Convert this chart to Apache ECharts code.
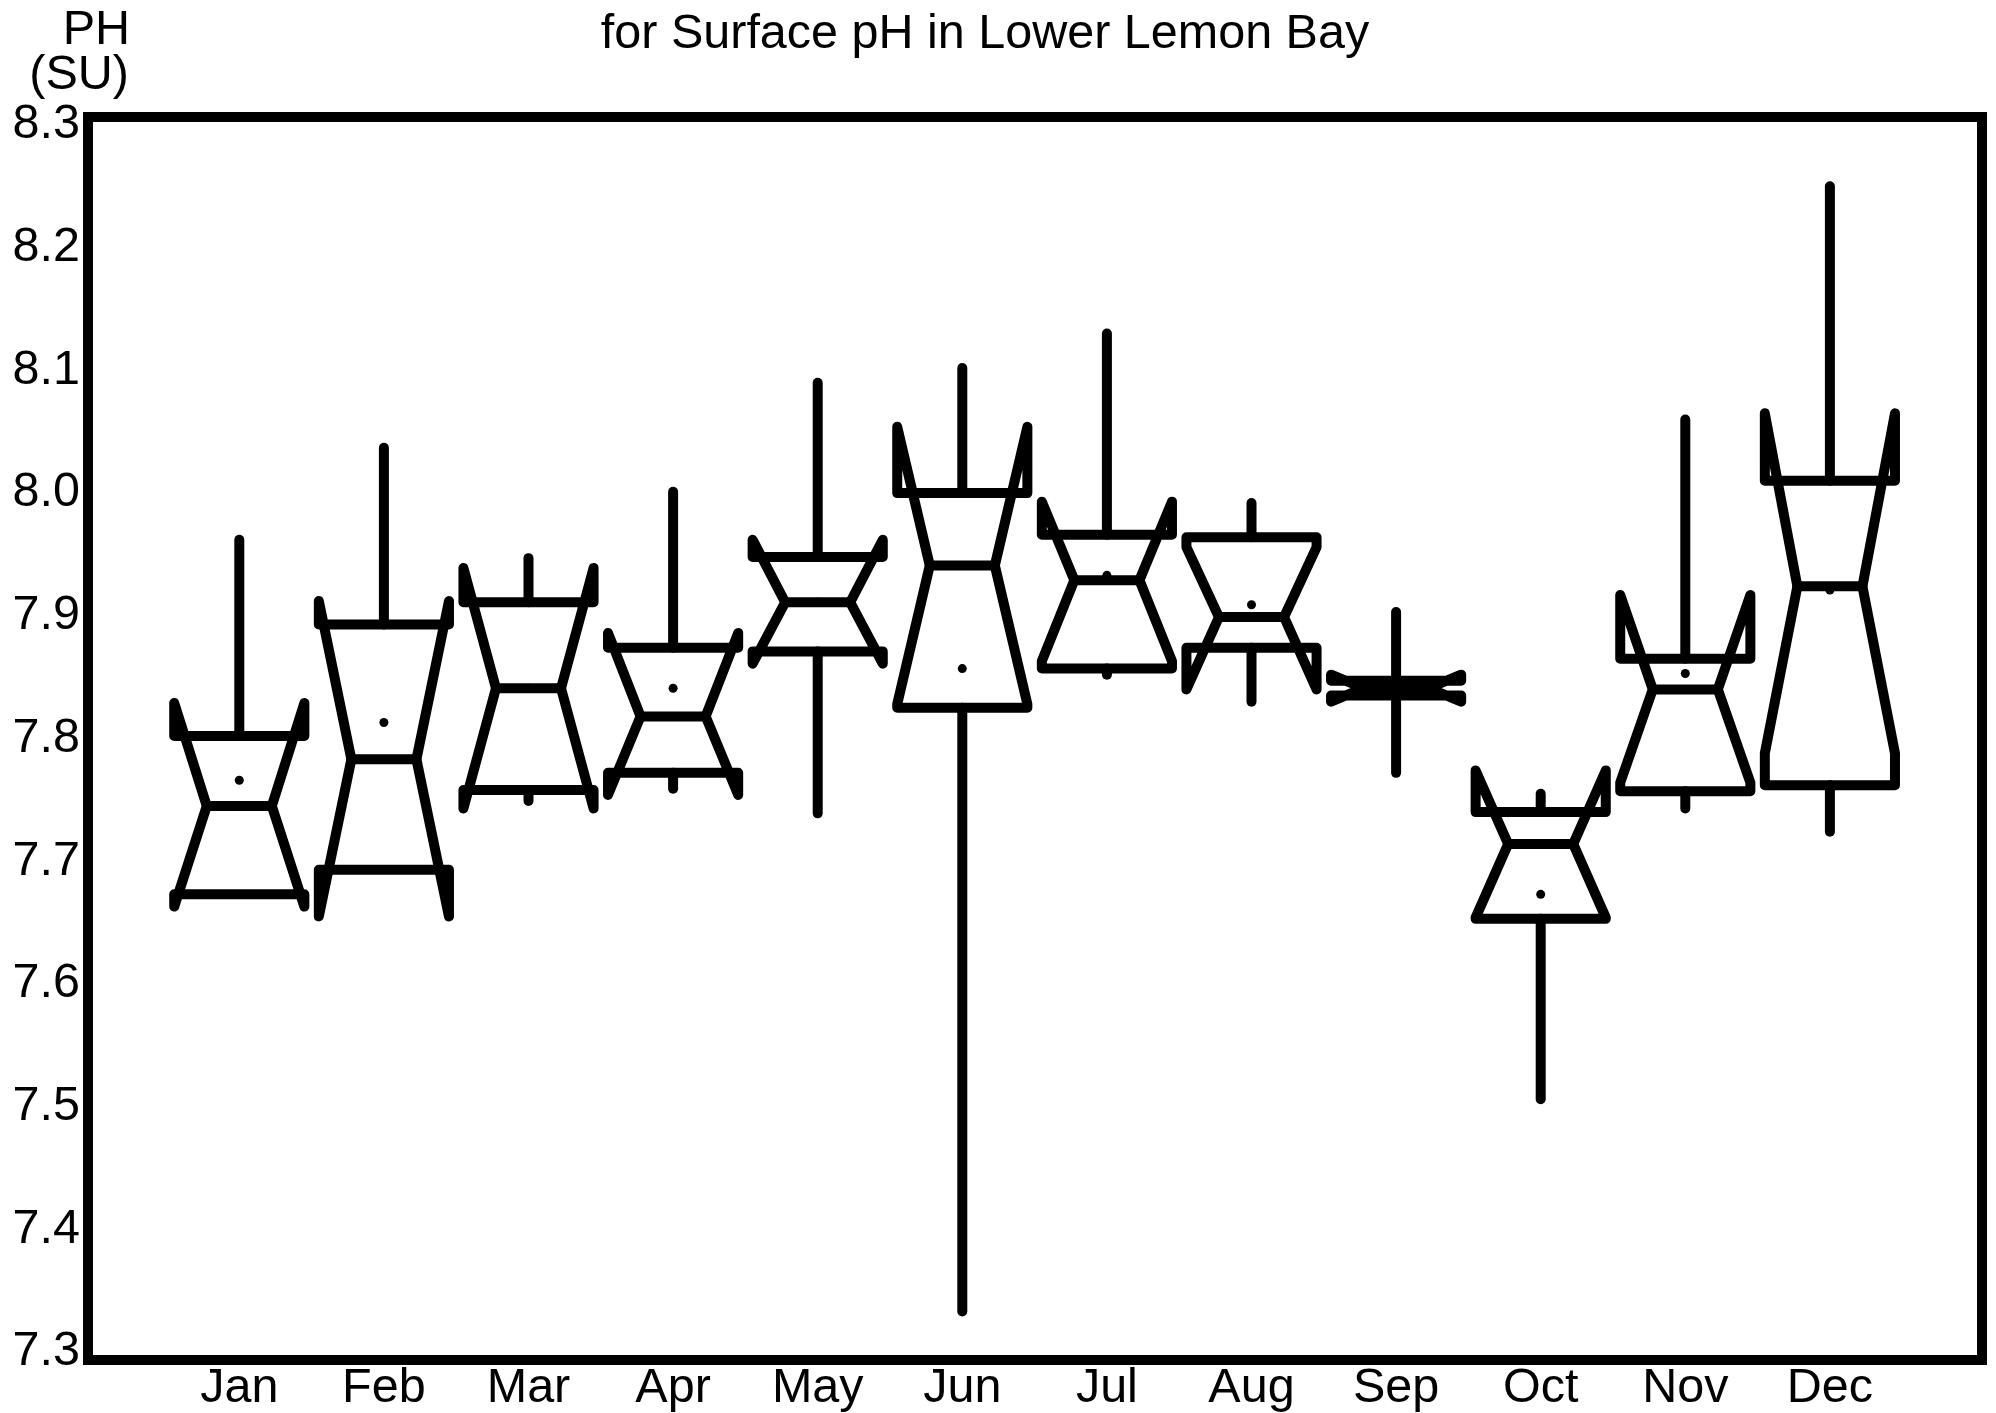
<!DOCTYPE html>
<html><head><meta charset="utf-8">
<script src="https://cdn.jsdelivr.net/npm/echarts@6/dist/echarts.min.js"></script>
<style>html,body{margin:0;padding:0;background:#fff}#c{width:1996px;height:1413px}</style>
</head><body><div id="c"></div>
<script>
const months = ['Jan','Feb','Mar','Apr','May','Jun','Jul','Aug','Sep','Oct','Nov','Dec'];
const whiskerLow  = [7.673,7.693,7.749,7.759,7.739,7.333,7.852,7.830,7.772,7.506,7.743,7.724];
const quart1      = [7.673,7.693,7.758,7.772,7.871,7.825,7.857,7.874,7.835,7.653,7.757,7.762];
const notchLow    = [7.663,7.655,7.743,7.754,7.861,7.828,7.863,7.840,7.830,7.654,7.764,7.788];
const median      = [7.745,7.783,7.841,7.818,7.911,7.941,7.929,7.899,7.841,7.714,7.840,7.924];
const notchHigh   = [7.829,7.912,7.939,7.886,7.962,8.054,7.993,7.956,7.852,7.774,7.917,8.065];
const quart3      = [7.802,7.893,7.911,7.874,7.948,8.000,7.966,7.964,7.847,7.740,7.865,8.010];
const whiskerHigh = [7.962,8.037,7.947,8.001,8.090,8.102,8.130,7.992,7.903,7.755,8.060,8.250];
const meanVal     = [7.766,7.813,7.841,7.841,7.911,7.857,7.933,7.909,7.841,7.673,7.853,7.921];
const yMinTick = 7.3, yMaxTick = 8.3, yStep = 0.1;
const titleText = 'for Surface pH in Lower Lemon Bay';
const yTitle1 = 'PH', yTitle2 = '(SU)';

const FONT = 'Liberation Sans, Arial, Helvetica, sans-serif';
const FS = 48.5;
const chart = echarts.init(document.getElementById('c'), null, {renderer:'canvas'});
const data = months.map((m,i)=>[i, whiskerLow[i], quart1[i], notchLow[i], median[i], notchHigh[i], quart3[i], whiskerHigh[i], meanVal[i]]);

function renderItem(params, api){
  const xi = api.value(0);
  const bw = api.size([1,0])[0];
  const w = bw*0.45, n = w/2;
  const cx = api.coord([xi, api.value(4)])[0];
  const Y = k => api.coord([xi, api.value(k)])[1];
  const yMin=Y(1), yQ1=Y(2), yLo=Y(3), yMed=Y(4), yHi=Y(5), yQ3=Y(6), yMax=Y(7), yMean=Y(8);
  const st = {stroke:'#000', lineWidth:10, fill:null, lineCap:'round', lineJoin:'round'};
  return {type:'group', children:[
    {type:'polyline', shape:{points:[[cx,yQ3],[cx,yMax]]}, style:st},
    {type:'polyline', shape:{points:[[cx,yQ1],[cx,yMin]]}, style:st},
    {type:'polygon', shape:{points:[[cx-w,yQ3],[cx-w,yHi],[cx-n,yMed],[cx-w,yLo],[cx-w,yQ1],[cx+w,yQ1],[cx+w,yLo],[cx+n,yMed],[cx+w,yHi],[cx+w,yQ3]]}, style:st},
    {type:'polyline', shape:{points:[[cx-n,yMed],[cx+n,yMed]]}, style:st},
    {type:'circle', shape:{cx:cx, cy:yMean, r:4.5}, style:{fill:'#000', stroke:null}}
  ]};
}

chart.setOption({
  animation:false,
  backgroundColor:'#fff',
  graphic:[
    {type:'text', x:985, y:35, style:{text:titleText, fontSize:FS, fontFamily:FONT, fill:'#000', align:'center', verticalAlign:'middle'}},
    {type:'text', x:130, y:31, style:{text:yTitle1, fontSize:FS, fontFamily:FONT, fill:'#000', align:'right', verticalAlign:'middle'}},
    {type:'text', x:129, y:76, style:{text:yTitle2, fontSize:FS, fontFamily:FONT, fill:'#000', align:'right', verticalAlign:'middle'}}
  ],
  grid:[
    {left:88, right:14, top:117, bottom:53, show:true, borderWidth:10, borderColor:'#000', backgroundColor:'transparent'},
    {left:167, right:93.8, top:125, bottom:61}
  ],
  xAxis:[
    {gridIndex:0, type:'value', show:false, min:0, max:1},
    {gridIndex:1, type:'category', data:months, boundaryGap:true,
     axisLine:{show:false}, axisTick:{show:false}, splitLine:{show:false},
     axisLabel:{fontSize:FS, fontFamily:FONT, color:'#000', margin:12, interval:0}}
  ],
  yAxis:[
    {gridIndex:0, type:'value', show:false, min:0, max:1},
    {gridIndex:1, type:'value', min:yMinTick, max:yMaxTick, interval:yStep, offset:79,
     axisLine:{show:false}, splitLine:{show:false},
     axisTick:{show:true, length:5, lineStyle:{color:'#000', width:4}},
     axisLabel:{fontSize:FS, fontFamily:FONT, color:'#000', margin:8, padding:[0,0,16,0],
       formatter:v=>v.toFixed(1)}}
  ],
  series:[{type:'custom', xAxisIndex:1, yAxisIndex:1, renderItem:renderItem, data:data, clip:false,
    encode:{x:0, y:[1,2,3,4,5,6,7,8]}}]
});
</script></body></html>
